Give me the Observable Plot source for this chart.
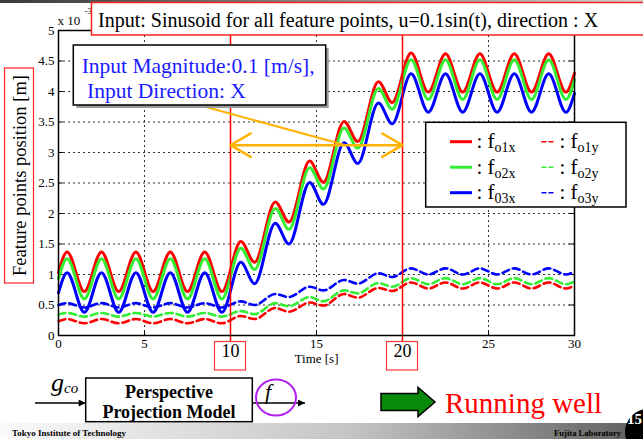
<!DOCTYPE html>
<html>
<head>
<meta charset="utf-8">
<script src="https://cdn.jsdelivr.net/npm/d3@7"></script>
<script src="https://cdn.jsdelivr.net/npm/@observablehq/plot@0.6"></script>
<style>
html,body{margin:0;padding:0;background:#fff;}
#wrap{position:relative;width:643px;height:439px;overflow:hidden;font-family:"Liberation Serif","Times New Roman",serif;}
#chart{position:absolute;left:0;top:0;}
#overlay{position:absolute;left:0;top:0;}
</style>
</head>
<body>
<div id="wrap">
<div id="chart"></div>
<svg id="overlay" width="643" height="439" xmlns="http://www.w3.org/2000/svg"></svg>
</div>
<script>
// ---- data (values in units of 1e-3 m) ----
const time = [0, 0.5, 1.5, 2.5, 3.5, 4.5, 5.5, 6.5, 7.5, 8.5, 9.5, 10.6, 11.4, 12.6, 13.4, 14.6, 15.4, 16.6, 17.4, 18.6, 19.4, 20.5, 21.5, 22.5, 23.5, 24.5, 25.5, 26.5, 27.5, 28.5, 29.5, 30];
const fo1x = [1.03, 1.37, 0.72, 1.37, 0.72, 1.37, 0.72, 1.37, 0.72, 1.37, 0.72, 1.54, 1.20, 2.19, 1.86, 2.86, 2.51, 3.51, 3.18, 4.16, 3.82, 4.63, 3.99, 4.62, 3.99, 4.62, 3.99, 4.62, 3.99, 4.62, 3.99, 4.30];
const fo2x = [0.93, 1.26, 0.60, 1.26, 0.60, 1.26, 0.60, 1.26, 0.60, 1.26, 0.60, 1.43, 1.08, 2.08, 1.74, 2.75, 2.40, 3.40, 3.07, 4.05, 3.71, 4.52, 3.87, 4.52, 3.87, 4.52, 3.87, 4.52, 3.87, 4.52, 3.87, 4.19];
const fo3x = [0.70, 1.03, 0.38, 1.03, 0.38, 1.03, 0.38, 1.03, 0.38, 1.03, 0.38, 1.20, 0.85, 1.84, 1.50, 2.51, 2.15, 3.16, 2.82, 3.81, 3.47, 4.29, 3.66, 4.29, 3.66, 4.29, 3.66, 4.29, 3.66, 4.29, 3.66, 3.97];
const fo1y = [0.235, 0.27, 0.20, 0.27, 0.20, 0.27, 0.20, 0.27, 0.20, 0.27, 0.20, 0.32, 0.27, 0.45, 0.39, 0.54, 0.49, 0.68, 0.62, 0.78, 0.73, 0.87, 0.77, 0.87, 0.77, 0.87, 0.77, 0.87, 0.77, 0.87, 0.77, 0.82];
const fo2y = [0.34, 0.37, 0.31, 0.37, 0.31, 0.37, 0.31, 0.37, 0.31, 0.37, 0.31, 0.40, 0.35, 0.53, 0.48, 0.63, 0.56, 0.74, 0.69, 0.86, 0.80, 0.94, 0.84, 0.94, 0.84, 0.94, 0.84, 0.94, 0.84, 0.94, 0.84, 0.89];
const fo3y = [0.50, 0.53, 0.46, 0.53, 0.46, 0.53, 0.46, 0.53, 0.46, 0.53, 0.46, 0.56, 0.50, 0.68, 0.63, 0.80, 0.74, 0.91, 0.85, 1.02, 0.96, 1.10, 1.00, 1.10, 1.00, 1.10, 1.00, 1.10, 1.00, 1.10, 1.00, 1.05];

const seriesSubX = ["o1x", "o2x", "03x"];
const seriesSubY = ["o1y", "o2y", "o3y"];
const seriesColors = ["#ff0000", "#33ee33", "#0000ff"];

const xTickLabels = [0, 5, 15, 25, 30];
const xGrid = [5, 10, 15, 20, 25];
const yTicks = [0, 0.5, 1, 1.5, 2, 2.5, 3, 3.5, 4, 4.5, 5];
const yGrid = [0.5, 1, 1.5, 2, 2.5, 3, 3.5, 4, 4.5];
const markedTimes = [10, 20];

const titleText = "Input: Sinusoid for all feature points, u=0.1sin(t), direction : X";
const yLabelText = "Feature points position [m]";
const xLabelText = "Time [s]";
const noteLines = ["Input Magnitude:0.1 [m/s],", " Input Direction: X"];
// annotation: double arrow between the two marked times, and pointer line from the note box
const arrowLevel = 3.12;
const pointerLine = [{x1: 8.26, y1: 3.77, x2: 16.7, y2: 3.12}];

// ---- build series table ----
const solid = [fo1x, fo2x, fo3x];
const dashed = [fo1y, fo2y, fo3y];
const toRows = (arr) => time.map((t, i) => ({t, v: arr[i]}));

const orange = "#ffb300";
const marks = [
  Plot.gridX(xGrid, {stroke: "black", strokeOpacity: 0.9, strokeWidth: 0.9, strokeDasharray: "2,3"}),
  Plot.gridY(yGrid, {stroke: "black", strokeOpacity: 0.9, strokeWidth: 0.9, strokeDasharray: "2,3"}),
  Plot.ruleY(yTicks, {x1: 0, x2: 0.28, stroke: "black"}),
  Plot.ruleY(yTicks, {x1: 29.72, x2: 30, stroke: "black"}),
  Plot.ruleX(xGrid, {y1: 0, y2: 0.08, stroke: "black"}),
  Plot.axisY(yTicks, {tickSize: 0, tickPadding: 4, tickFormat: d => String(d), label: null, fontSize: 13}),
  Plot.axisX(xTickLabels, {tickSize: 0, tickPadding: 3, tickFormat: d => String(d), label: null, fontSize: 13})
];
dashed.forEach((arr, i) => marks.push(Plot.line(toRows(arr), {x: "t", y: "v", stroke: seriesColors[i], strokeWidth: 2.6, strokeDasharray: "7,4", curve: "monotone-x"})));
solid.forEach((arr, i) => marks.push(Plot.line(toRows(arr), {x: "t", y: "v", stroke: seriesColors[i], strokeWidth: 3, curve: "monotone-x"})));
marks.push(
  Plot.ruleX(markedTimes, {y1: -0.1, y2: 5, stroke: "#ff0000", strokeWidth: 1.5}),
  Plot.text(markedTimes, {x: d => d, text: d => String(d), frameAnchor: "bottom", dy: 21, fontSize: 18}),
  Plot.text([xLabelText], {frameAnchor: "bottom", dy: 27, fontSize: 13}),
  Plot.frame({stroke: "black", strokeWidth: 1.5}),
  Plot.link(pointerLine, {x1: "x1", y1: "y1", x2: "x2", y2: "y2", stroke: orange, strokeWidth: 2}),
  Plot.arrow([{a: 15, b: markedTimes[0]}, {a: 15, b: markedTimes[1]}], {x1: "a", x2: "b", y1: arrowLevel, y2: arrowLevel, stroke: orange, strokeWidth: 2.5, headLength: 14, headAngle: 60})
);

const chart = Plot.plot({
  width: 643, height: 439,
  marginLeft: 58, marginRight: 69, marginTop: 30, marginBottom: 104,
  x: {domain: [0, 30]},
  y: {domain: [0, 5]},
  style: {fontFamily: "'Liberation Serif', serif", fontSize: "13px", color: "black", background: "transparent"},
  marks
});
document.getElementById("chart").appendChild(chart);

// ---- overlay (slide decorations, title, note, legend) ----
const svg = d3.select("#overlay");
const defs = svg.append("defs");
const g1 = defs.append("linearGradient").attr("id", "topgrad");
g1.append("stop").attr("offset", "0").attr("stop-color", "#3a3a3a");
g1.append("stop").attr("offset", "1").attr("stop-color", "#d0d0d0");
const g2 = defs.append("linearGradient").attr("id", "footgrad");
g2.append("stop").attr("offset", "0").attr("stop-color", "#fafafa");
g2.append("stop").attr("offset", "0.55").attr("stop-color", "#c4c4c4");
g2.append("stop").attr("offset", "1").attr("stop-color", "#5e5e5e");
const mk = defs.append("marker").attr("id", "tri").attr("viewBox", "0 0 10 10").attr("refX", 10).attr("refY", 5)
  .attr("markerWidth", 9).attr("markerHeight", 7).attr("markerUnits", "userSpaceOnUse").attr("orient", "auto");
mk.append("path").attr("d", "M0,0L10,5L0,10Z").attr("fill", "black");

svg.append("rect").attr("x", 0).attr("y", 0).attr("width", 643).attr("height", 3).attr("fill", "url(#topgrad)");

// boxes around the marked time labels
const xs = chart.scale("x");
markedTimes.forEach(t => {
  const px = xs.apply(t);
  svg.append("rect").attr("x", px - 15.5).attr("y", 341.5).attr("width", 31).attr("height", 28.5)
    .attr("fill", "none").attr("stroke", "#ff3a3a").attr("stroke-width", 1.2);
});

// exponent
svg.append("text").attr("x", 57.5).attr("y", 25).attr("font-size", 13).attr("fill", "black").text("x 10");
svg.append("text").attr("x", 84.5).attr("y", 14).attr("font-size", 9).attr("fill", "black").text("-3");

// y label box
svg.append("rect").attr("x", 4.5).attr("y", 68).attr("width", 29).attr("height", 215)
  .attr("fill", "white").attr("stroke", "#ff2020").attr("stroke-width", 1.2);
svg.append("text").attr("transform", "translate(19.5,175.5) rotate(-90)").attr("text-anchor", "middle")
  .attr("dominant-baseline", "central").attr("font-size", 18.5).attr("fill", "black").text(yLabelText);

// title
svg.append("rect").attr("x", 91.5).attr("y", 2.5).attr("width", 580).attr("height", 32.5)
  .attr("fill", "white").attr("stroke", "#ff2020").attr("stroke-width", 1.5);
svg.append("text").attr("x", 98).attr("y", 26.5).attr("font-size", 20).attr("fill", "black").text(titleText);

// note box
svg.append("rect").attr("x", 76.3).attr("y", 48).attr("width", 252.4).attr("height", 60).attr("fill", "#9a9a9a");
svg.append("rect").attr("x", 73.3).attr("y", 45).attr("width", 252.4).attr("height", 60)
  .attr("fill", "white").attr("stroke", "black").attr("stroke-width", 1.5);
noteLines.forEach((s, i) => {
  svg.append("text").attr("x", 81.7).attr("y", 72.5 + 25.5 * i).attr("font-size", 21.5)
    .attr("fill", "#1a1aff").style("white-space", "pre").text(s);
});

// legend
svg.append("rect").attr("x", 425.7).attr("y", 122.3).attr("width", 200.3).attr("height", 84.7)
  .attr("fill", "white").attr("stroke", "black").attr("stroke-width", 1.5);
seriesColors.forEach((c, i) => {
  const y = 141.7 + 25.5 * i;
  svg.append("line").attr("x1", 450).attr("x2", 472).attr("y1", y).attr("y2", y).attr("stroke", c).attr("stroke-width", 3);
  svg.append("line").attr("x1", 541.5).attr("x2", 553.5).attr("y1", y).attr("y2", y).attr("stroke", c)
    .attr("stroke-width", 1.5).attr("stroke-dasharray", "5,2");
  [[476.5, seriesSubX[i]], [559.5, seriesSubY[i]]].forEach(([x, sub]) => {
    const t = svg.append("text").attr("x", x).attr("y", y + 6.5).attr("font-size", 21).attr("fill", "black").style("white-space", "pre");
    t.append("tspan").text(": f");
    t.append("tspan").attr("font-size", 14).attr("dy", 4).text(sub);
  });
});

// bottom diagram
svg.append("line").attr("x1", 35).attr("x2", 85.7).attr("y1", 403).attr("y2", 403).attr("stroke", "black").attr("stroke-width", 1.3).attr("marker-end", "url(#tri)");
const gt = svg.append("text").attr("x", 51).attr("y", 391).attr("font-size", 26).attr("font-style", "italic").attr("fill", "black");
gt.append("tspan").text("g");
gt.append("tspan").attr("font-size", 15).attr("dy", 2).text("co");
svg.append("rect").attr("x", 85.7).attr("y", 378).attr("width", 166.6).attr("height", 43.7).attr("fill", "white").attr("stroke", "black").attr("stroke-width", 1.5);
svg.append("text").attr("x", 169).attr("y", 397.5).attr("text-anchor", "middle").attr("font-size", 18).attr("font-weight", "bold").attr("fill", "black").text("Perspective");
svg.append("text").attr("x", 169).attr("y", 417.5).attr("text-anchor", "middle").attr("font-size", 18).attr("font-weight", "bold").attr("fill", "black").text("Projection Model");
svg.append("line").attr("x1", 252.3).attr("x2", 305).attr("y1", 403).attr("y2", 403).attr("stroke", "black").attr("stroke-width", 1.3).attr("marker-end", "url(#tri)");
svg.append("ellipse").attr("cx", 276).attr("cy", 397.5).attr("rx", 20).attr("ry", 18).attr("fill", "none").attr("stroke", "#b020ee").attr("stroke-width", 2);
svg.append("text").attr("x", 265).attr("y", 399).attr("font-size", 22).attr("font-style", "italic").attr("fill", "black").text("f");

svg.append("path").attr("d", "M381,393.5H418V387.5L435,402L418,416.5V410.5H381Z").attr("fill", "#0a8a0a").attr("stroke", "black").attr("stroke-width", 1.5);
svg.append("text").attr("x", 445).attr("y", 413).attr("font-size", 29).attr("fill", "#ff0000").text("Running well");

// footer
svg.append("rect").attr("x", 0).attr("y", 423).attr("width", 643).attr("height", 16).attr("fill", "url(#footgrad)");
svg.append("text").attr("x", 12).attr("y", 436).attr("font-size", 9).attr("font-weight", "bold").attr("fill", "black").text("Tokyo Institute of Technology");
svg.append("text").attr("x", 554).attr("y", 436).attr("font-size", 8.6).attr("font-weight", "bold").attr("fill", "black").text("Fujita Laboratory");
svg.append("circle").attr("cx", 648).attr("cy", 432).attr("r", 23).attr("fill", "black");
svg.append("text").attr("x", 634.5).attr("y", 424).attr("text-anchor", "middle").attr("font-size", 15).attr("font-weight", "bold").attr("fill", "white").text("15");
</script>
</body>
</html>
